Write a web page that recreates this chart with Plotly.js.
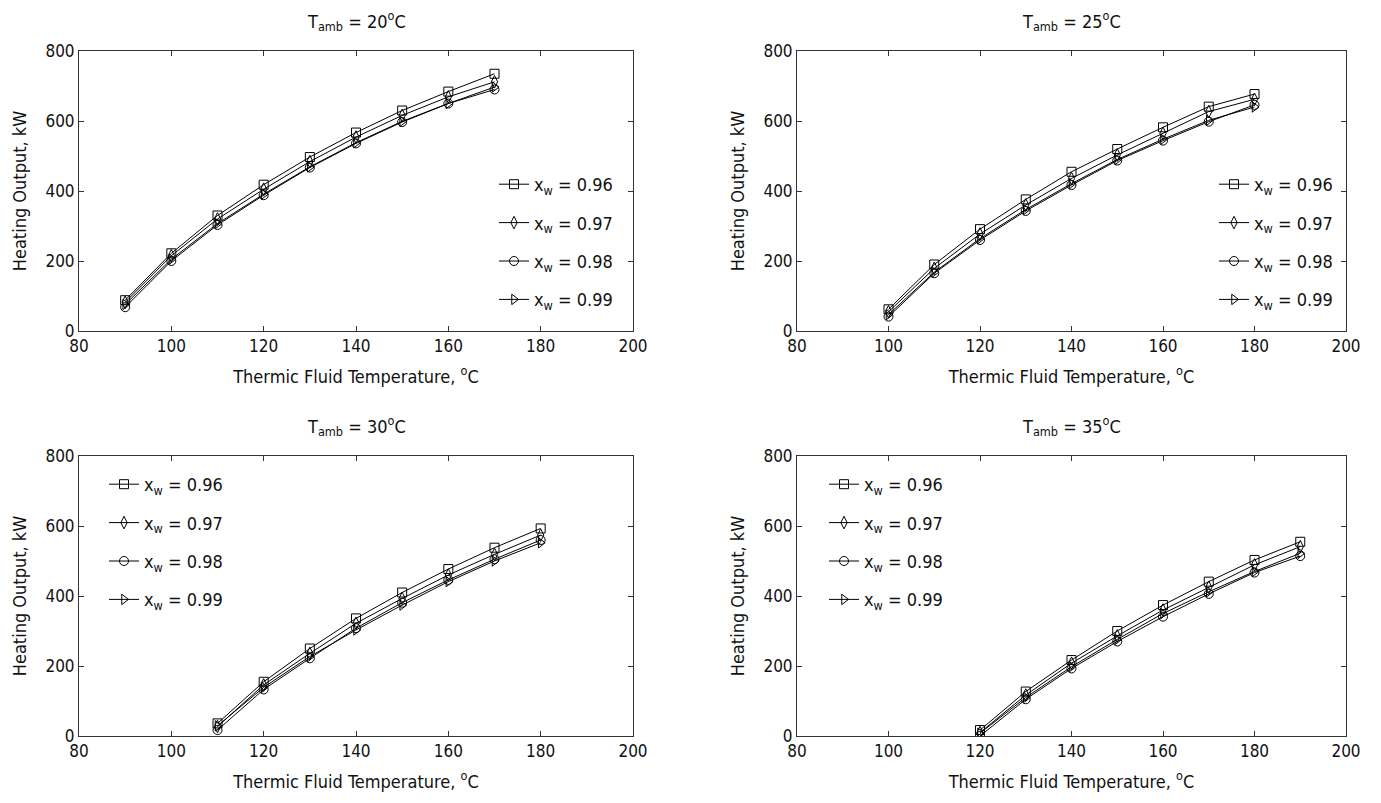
<!DOCTYPE html>
<html>
<head>
<meta charset="utf-8">
<script src="https://cdn.plot.ly/plotly-3.0.1.min.js"></script>
<style>html,body{margin:0;padding:0;background:#fff;}#chart{width:1381px;height:803px;}</style>
</head>
<body>
<div id="chart"></div>
<script>
// ---- data ----
const seriesLabels = ["x<sub>w</sub> = 0.96", "x<sub>w</sub> = 0.97", "x<sub>w</sub> = 0.98", "x<sub>w</sub> = 0.99"];
const panelTitles = ["T<sub>amb</sub> = 20<sup>o</sup>C", "T<sub>amb</sub> = 25<sup>o</sup>C", "T<sub>amb</sub> = 30<sup>o</sup>C", "T<sub>amb</sub> = 35<sup>o</sup>C"];
const xTitle = "Thermic Fluid Temperature, <sup>o</sup>C";
const yTitle = "Heating Output, kW";

const temp20 = [90, 100, 110, 120, 130, 140, 150, 160, 170];
const q20_096 = [88, 222, 330, 418, 497, 567, 630, 684, 735];
const q20_097 = [82, 215, 320, 405, 484, 554, 616, 669, 712];
const q20_098 = [68, 200, 303, 388, 467, 536, 597, 650, 690];
const q20_099 = [76, 205, 307, 391, 469, 538, 599, 650, 697];

const temp25 = [100, 110, 120, 130, 140, 150, 160, 170, 180];
const q25_096 = [62, 190, 291, 376, 455, 520, 582, 641, 677];
const q25_097 = [55, 179, 277, 360, 436, 503, 565, 627, 662];
const q25_098 = [41, 165, 260, 343, 417, 487, 544, 598, 646];
const q25_099 = [47, 168, 264, 347, 421, 490, 548, 602, 640];

const temp30 = [110, 120, 130, 140, 150, 160, 170, 180];
const q30_096 = [36, 155, 250, 336, 410, 477, 538, 593];
const q30_097 = [27, 146, 236, 322, 393, 460, 519, 574];
const q30_098 = [17, 133, 222, 308, 381, 446, 505, 560];
const q30_099 = [29, 139, 227, 303, 374, 441, 500, 552];

const temp35 = [120, 130, 140, 150, 160, 170, 180, 190];
const q35_096 = [17, 127, 217, 300, 374, 441, 503, 555];
const q35_097 = [10, 117, 208, 286, 360, 425, 489, 541];
const q35_098 = [0, 105, 193, 270, 341, 406, 467, 514];
const q35_099 = [8, 110, 198, 276, 350, 412, 470, 522];

const xTicks = [80, 100, 120, 140, 160, 180, 200];
const yTicks = [0, 200, 400, 600, 800];

// ---- build ----
const FONT = "Liberation Sans Narrow, Arial Narrow, DejaVu Sans Condensed, Liberation Sans, sans-serif";
const symbols = ["square-open", "diamond-tall-open", "circle-open", "triangle-right-open"];
const panels = [
  {x: temp20, ys: [q20_096, q20_097, q20_098, q20_099]},
  {x: temp25, ys: [q25_096, q25_097, q25_098, q25_099]},
  {x: temp30, ys: [q30_096, q30_097, q30_098, q30_099]},
  {x: temp35, ys: [q35_096, q35_097, q35_098, q35_099]}
];
const W = 1381, H = 803;
const boxes = [
  {l: 79, r: 633, t: 51, b: 331},
  {l: 797, r: 1346, t: 51, b: 331},
  {l: 79, r: 633, t: 456, b: 736},
  {l: 797, r: 1346, t: 456, b: 736}
];
const legendPos = [
  {x: 494, y: 166},
  {x: 1214, y: 166},
  {x: 104, y: 466},
  {x: 824, y: 466}
];

const traces = [];
const layout = {
  width: W, height: H,
  margin: {l: 0, r: 0, t: 0, b: 0},
  paper_bgcolor: "#fff", plot_bgcolor: "#fff",
  font: {family: FONT, size: 17, color: "#111"},
  showlegend: true,
  annotations: []
};

panels.forEach((p, i) => {
  const n = i + 1;
  const xa = n === 1 ? "x" : "x" + n;
  const ya = n === 1 ? "y" : "y" + n;
  const lg = n === 1 ? "legend" : "legend" + n;
  p.ys.forEach((ys, k) => {
    traces.push({
      type: "scatter", mode: "lines+markers",
      x: p.x, y: ys, name: seriesLabels[k],
      xaxis: xa, yaxis: ya, legend: lg, legendgroup: "p" + n + "s" + k,
      line: {color: "#000", width: 1},
      marker: {symbol: symbols[k], size: 9, color: "#000", line: {width: 1, color: "#000"}}
    });
  });
  const b = boxes[i];
  const axCommon = {
    showline: true, mirror: "ticks", linecolor: "#333", linewidth: 1,
    ticks: "inside", ticklen: 5, tickcolor: "#333", showgrid: false, zeroline: false,
    tickfont: {family: FONT, size: 17, color: "#111"}
  };
  layout[n === 1 ? "xaxis" : "xaxis" + n] = Object.assign({}, axCommon, {
    domain: [b.l / W, b.r / W], anchor: ya, range: [80, 200],
    tickvals: xTicks, ticktext: xTicks.map(String),
    title: {text: xTitle, font: {family: FONT, size: 18, color: "#111"}, standoff: 14}
  });
  layout[n === 1 ? "yaxis" : "yaxis" + n] = Object.assign({}, axCommon, {
    domain: [1 - b.b / H, 1 - b.t / H], anchor: xa, range: [0, 800],
    tickvals: yTicks, ticktext: yTicks.map(String),
    title: {text: yTitle, font: {family: FONT, size: 18, color: "#111"}, standoff: 14}
  });
  layout[lg] = {
    x: legendPos[i].x / W, y: 1 - legendPos[i].y / H, xanchor: "left", yanchor: "top",
    bgcolor: "rgba(255,255,255,0)", borderwidth: 0,
    font: {family: FONT, size: 18, color: "#111"},
    traceorder: "grouped", tracegroupgap: 12, itemwidth: 30
  };
  layout.annotations.push({
    text: panelTitles[i], showarrow: false, xref: "paper", yref: "paper",
    x: (b.l + b.r) / 2 / W, y: 1 - (b.t - 30) / H, xanchor: "center", yanchor: "middle",
    font: {family: FONT, size: 18, color: "#111"}
  });
});

Plotly.newPlot("chart", traces, layout, {displayModeBar: false, staticPlot: true});
</script>
</body>
</html>
